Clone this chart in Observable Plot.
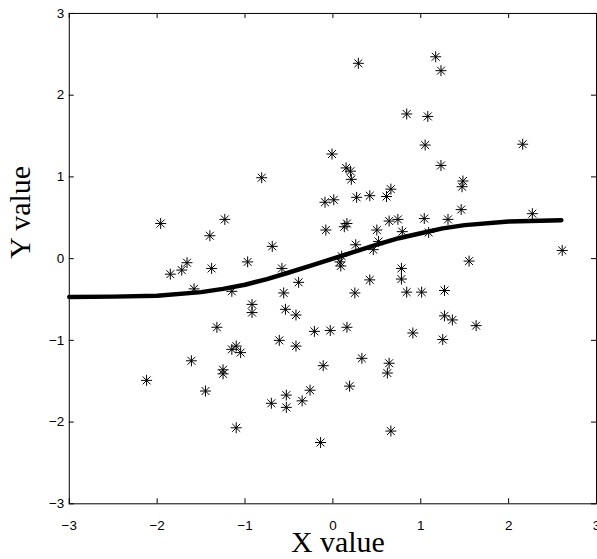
<!DOCTYPE html>
<html><head><meta charset="utf-8">
<script src="https://cdn.jsdelivr.net/npm/d3@7"></script>
<script src="https://cdn.jsdelivr.net/npm/@observablehq/plot@0.6"></script>
<style>html,body{margin:0;padding:0;background:#fff;overflow:hidden}</style>
</head><body><div id="chart"></div>
<script>
const pointsX = [0.29,1.17,1.23,0.84,1.08,1.05,-0.01,2.16,1.23,1.48,1.47,1.46,1.31,2.27,2.61,1.55,1.27,1.27,1.36,1.63,1.25,
  0.15,0.20,0.21,0.66,0.61,0.42,0.27,-0.09,0.01,1.04,0.64,0.74,-0.08,0.13,0.16,0.50,0.79,1.09,0.26,0.52,0.46,0.10,0.08,0.09,0.78,0.78,0.42,0.25,0.84,1.01,0.91,-0.03,0.16,-0.11,0.33,0.64,0.62,0.19,0.66,-0.14,
  -1.96,-1.23,-1.40,-0.69,-1.66,-1.72,-1.85,-1.38,-0.97,-0.58,-0.39,-1.58,-1.15,-0.56,-0.92,-0.92,-0.54,-0.42,-0.21,-1.32,-0.61,-0.42,-1.15,-1.10,-1.05,-1.61,-2.12,-1.25,-1.25,-1.45,-0.53,-0.70,-0.53,-0.35,-0.26,-1.10,-0.81];
const pointsY = [2.39,2.47,2.30,1.77,1.74,1.39,1.28,1.40,1.14,0.95,0.88,0.60,0.48,0.55,0.10,-0.03,-0.39,-0.70,-0.75,-0.82,-0.99,
  1.11,1.07,0.97,0.85,0.76,0.77,0.75,0.69,0.72,0.49,0.46,0.48,0.35,0.39,0.43,0.35,0.33,0.32,0.17,0.21,0.11,0.03,-0.04,-0.09,-0.12,-0.25,-0.26,-0.42,-0.41,-0.41,-0.91,-0.88,-0.84,-1.31,-1.22,-1.28,-1.40,-1.56,-2.11,-2.25,
  0.43,0.48,0.28,0.15,-0.05,-0.14,-0.19,-0.12,-0.04,-0.12,-0.29,-0.37,-0.40,-0.42,-0.56,-0.66,-0.62,-0.69,-0.89,-0.84,-1.00,-1.07,-1.11,-1.07,-1.15,-1.25,-1.49,-1.36,-1.41,-1.62,-1.67,-1.77,-1.82,-1.74,-1.61,-2.07,0.99];
const curveX = [-3,-2.5,-2,-1.5,-1.25,-1,-0.75,-0.5,-0.25,0,0.25,0.5,0.75,1,1.25,1.5,2,2.6];
const curveY = [-0.47,-0.465,-0.455,-0.41,-0.37,-0.32,-0.25,-0.17,-0.085,0,0.085,0.17,0.25,0.31,0.37,0.41,0.455,0.47];
const xTicks = [-3,-2,-1,0,1,2,3];
const yTicks = [-3,-2,-1,0,1,2,3];
const xLabel = "X value";
const yLabel = "Y value";

const points = pointsX.map((x, i) => ({x, y: pointsY[i]}));
const curve = curveX.map((x, i) => ({x, y: curveY[i]}));

const W = 599, H = 559, mL = 69, mR = 1, mT = 13, mB = 54;
const fw = W - mL - mR, fh = H - mT - mB, tl = 5;

const star = {
  draw(ctx, size) {
    const r = Math.sqrt(size / Math.PI), d = r * 0.72;
    ctx.moveTo(-r, 0); ctx.lineTo(r, 0);
    ctx.moveTo(0, -r); ctx.lineTo(0, r);
    ctx.moveTo(-d, -d); ctx.lineTo(d, d);
    ctx.moveTo(-d, d); ctx.lineTo(d, -d);
  }
};

const fmt = d3.format("d");
const font = "'Liberation Sans', Arial, Helvetica, sans-serif";
const serif = "'Liberation Serif', 'Times New Roman', serif";

const chart = Plot.plot({
  width: W, height: H,
  marginLeft: mL, marginRight: mR, marginTop: mT, marginBottom: mB,
  style: {fontFamily: font, fontSize: "13px", color: "black", background: "white"},
  x: {domain: [-3, 3]},
  y: {domain: [-3, 3]},
  marks: [
    Plot.axisX({ticks: xTicks, tickFormat: fmt, tickSize: 0, tickPadding: 17, label: null, fontSize: 13.5}),
    Plot.axisY({ticks: yTicks, tickFormat: fmt, tickSize: 0, tickPadding: 5, label: null, fontSize: 13.5}),
    Plot.tickX(xTicks, {x: d => d, insetTop: fh - tl, stroke: "black"}),
    Plot.tickX(xTicks, {x: d => d, insetBottom: fh - tl, stroke: "black"}),
    Plot.tickY(yTicks, {y: d => d, insetRight: fw - tl, stroke: "black"}),
    Plot.tickY(yTicks, {y: d => d, insetLeft: fw - tl, stroke: "black"}),
    Plot.frame({stroke: "black", strokeWidth: 1}),
    Plot.line(curve, {x: "x", y: "y", stroke: "black", strokeWidth: 4.5}),
    Plot.dot(points, {x: "x", y: "y", symbol: star, r: 5.5, stroke: "black", strokeWidth: 1}),
    Plot.text([xLabel], {frameAnchor: "bottom", dx: 5, dy: 48, lineAnchor: "bottom", fontFamily: serif, fontSize: 30, fill: "black"}),
    Plot.text([yLabel], {frameAnchor: "left", dx: -39, rotate: -90, lineAnchor: "bottom", fontFamily: serif, fontSize: 30, fill: "black"})
  ]
});
document.getElementById("chart").appendChild(chart);
</script>
</body></html>
